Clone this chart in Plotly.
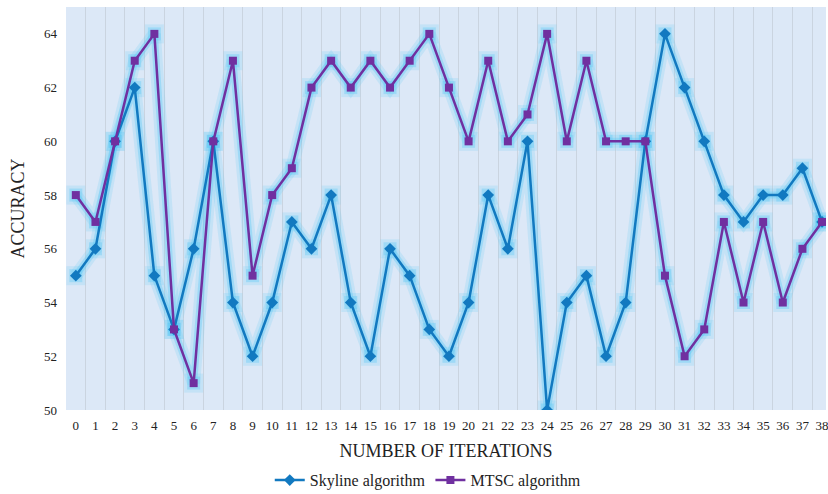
import plotly.graph_objects as go

iterations = list(range(39))
skyline = [55, 56, 60, 62, 55, 53, 56, 60, 54, 52, 54, 57, 56, 58, 54, 52, 56, 55, 53, 52,
           54, 58, 56, 60, 50, 54, 55, 52, 54, 60, 64, 62, 60, 58, 57, 58, 58, 59, 57]
mtsc = [58, 57, 60, 63, 64, 53, 51, 60, 63, 55, 58, 59, 62, 63, 62, 63, 62, 63, 64, 62,
        60, 63, 60, 61, 64, 60, 63, 60, 60, 60, 55, 52, 53, 57, 54, 57, 54, 56, 57]
y_ticks = [50, 52, 54, 56, 58, 60, 62, 64]

serif = "'Liberation Serif', 'Times New Roman', Times, serif"
sky_col = "#1279c0"
mtsc_col = "#7030a0"

fig = go.Figure()
# soft glow halos (two layers)
for width, msize, alpha in ((13, 19, 0.18), (7, 13, 0.35)):
    glow = f"rgba(90,200,245,{alpha})"
    for ys in (skyline, mtsc):
        fig.add_trace(go.Scatter(x=iterations, y=ys, mode="lines+markers",
                                 line=dict(color=glow, width=width),
                                 marker=dict(symbol="square", size=msize, color=glow),
                                 showlegend=False, hoverinfo="skip"))
fig.add_trace(go.Scatter(x=iterations, y=skyline, mode="lines+markers", name="Skyline algorithm",
                         line=dict(color=sky_col, width=2.5),
                         marker=dict(symbol="diamond", size=9, color=sky_col)))
fig.add_trace(go.Scatter(x=iterations, y=mtsc, mode="lines+markers", name="MTSC algorithm",
                         line=dict(color=mtsc_col, width=2.5),
                         marker=dict(symbol="square", size=8, color=mtsc_col)))

fig.update_layout(
    width=828, height=494,
    margin=dict(l=66, r=2, t=7, b=84),
    paper_bgcolor="white", plot_bgcolor="#dce8f7",
    font=dict(family=serif, color="#222"),
    legend=dict(orientation="h", x=0.476, xanchor="center", yref="container",
                y=0.028, yanchor="middle",
                font=dict(size=16, family=serif), bgcolor="rgba(0,0,0,0)"),
    xaxis=dict(range=[-0.5, 38.2], tickvals=iterations, ticktext=[str(i) for i in iterations],
               showgrid=False, zeroline=False, showline=False, automargin=False,
               tickfont=dict(size=13, family=serif), ticklabeloverflow="allow",
               ticks="", ticklabelstandoff=6,
               minor=dict(tick0=0.5, dtick=1, showgrid=True, gridcolor="#cad4e0", gridwidth=1),
               title=dict(text="NUMBER OF ITERATIONS", font=dict(size=18, family=serif), standoff=12)),
    yaxis=dict(range=[50, 65], tickvals=y_ticks, showgrid=False, zeroline=False, showline=False,
               automargin=False,
               tickfont=dict(size=13, family=serif), ticks="", ticklabelstandoff=8,
               title=dict(text="ACCURACY", font=dict(size=18, family=serif), standoff=14)),
)

fig.write_html("out.html", config={"displayModeBar": False},
               post_script="document.body.style.margin='0';document.body.style.padding='0';")
